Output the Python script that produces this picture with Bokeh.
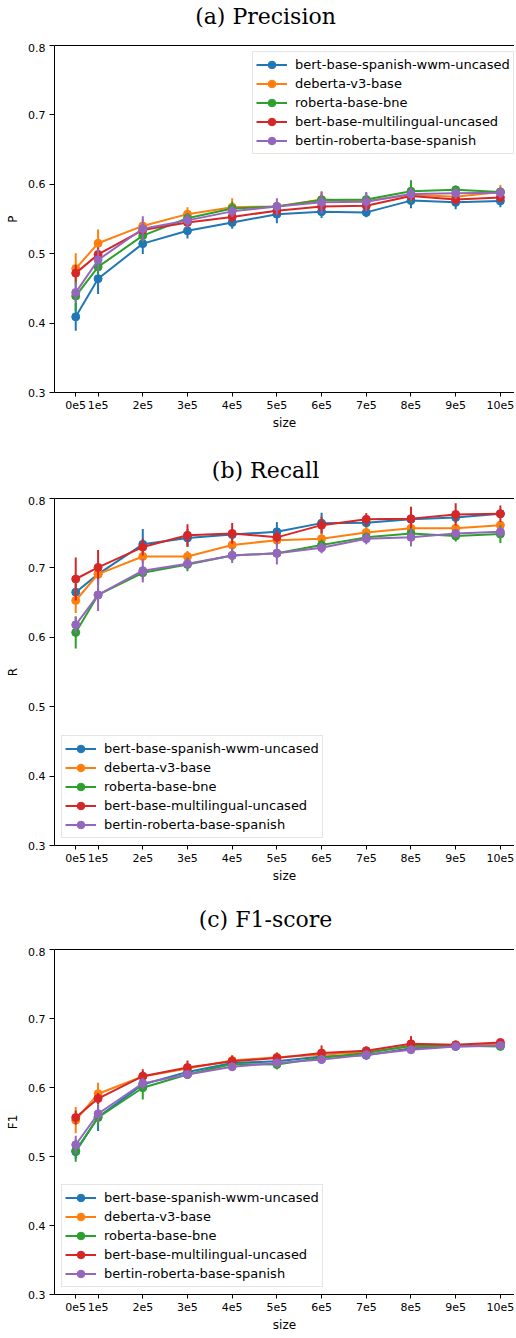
from bokeh.plotting import figure
from bokeh.models import (ColumnDataSource, Range1d, FixedTicker, LinearAxis,
                          Legend, LegendItem, Label)
from bokeh.layouts import column
from bokeh.embed import file_html
from bokeh.resources import INLINE

# ---------------- data ----------------
sizes = [50000, 100000, 200000, 300000, 400000, 500000,
         600000, 700000, 800000, 900000, 1000000]
size_labels = ["0e5", "1e5", "2e5", "3e5", "4e5", "5e5",
               "6e5", "7e5", "8e5", "9e5", "10e5"]
models = ["bert-base-spanish-wwm-uncased", "deberta-v3-base", "roberta-base-bne",
          "bert-base-multilingual-uncased", "bertin-roberta-base-spanish"]
colors = ["#1f77b4", "#ff7f0e", "#2ca02c", "#d62728", "#9467bd"]
y_ticks = [0.3, 0.4, 0.5, 0.6, 0.7, 0.8]
panel_titles = ["(a) Precision", "(b) Recall", "(c) F1-score"]
y_labels = ["P", "R", "F1"]

# (a) Precision
p_bert_es = [0.409, 0.464, 0.5145, 0.533, 0.545, 0.557, 0.5605, 0.5595, 0.5765, 0.574, 0.576]
p_deberta = [0.4785, 0.515, 0.540, 0.557, 0.567, 0.568, 0.578, 0.576, 0.585, 0.582, 0.589]
p_roberta = [0.439, 0.481, 0.526, 0.551, 0.565, 0.568, 0.5775, 0.578, 0.590, 0.592, 0.589]
p_mbert = [0.472, 0.499, 0.534, 0.545, 0.553, 0.562, 0.568, 0.569, 0.583, 0.578, 0.581]
p_bertin = [0.444, 0.491, 0.536, 0.548, 0.561, 0.568, 0.574, 0.575, 0.586, 0.587, 0.588]
p_err_bert_es = [0.020, 0.022, 0.015, 0.011, 0.009, 0.013, 0.009, 0.007, 0.011, 0.010, 0.009]
p_err_deberta = [0.022, 0.020, 0.010, 0.010, 0.013, 0.005, 0.011, 0.008, 0.008, 0.008, 0.010]
p_err_roberta = [0.022, 0.010, 0.010, 0.008, 0.010, 0.006, 0.008, 0.009, 0.016, 0.006, 0.005]
p_err_mbert = [0.012, 0.010, 0.008, 0.007, 0.008, 0.006, 0.007, 0.008, 0.006, 0.007, 0.006]
p_err_bertin = [0.014, 0.016, 0.018, 0.010, 0.008, 0.012, 0.016, 0.014, 0.009, 0.008, 0.008]

# (b) Recall
r_bert_es = [0.665, 0.691, 0.734, 0.743, 0.748, 0.752, 0.7645, 0.765, 0.770, 0.7727, 0.778]
r_deberta = [0.653, 0.691, 0.7165, 0.7165, 0.733, 0.740, 0.742, 0.751, 0.757, 0.757, 0.7616]
r_roberta = [0.607, 0.661, 0.693, 0.705, 0.718, 0.721, 0.733, 0.744, 0.7497, 0.746, 0.7487]
r_mbert = [0.684, 0.7007, 0.730, 0.747, 0.7497, 0.744, 0.7616, 0.770, 0.771, 0.777, 0.778]
r_bertin = [0.618, 0.661, 0.696, 0.706, 0.718, 0.721, 0.729, 0.742, 0.744, 0.7497, 0.752]
r_err_bert_es = [0.012, 0.010, 0.022, 0.013, 0.008, 0.014, 0.015, 0.008, 0.008, 0.008, 0.006]
r_err_deberta = [0.018, 0.010, 0.010, 0.008, 0.008, 0.008, 0.008, 0.008, 0.006, 0.006, 0.006]
r_err_roberta = [0.023, 0.010, 0.010, 0.010, 0.008, 0.006, 0.008, 0.007, 0.008, 0.008, 0.013]
r_err_mbert = [0.031, 0.025, 0.012, 0.016, 0.015, 0.010, 0.012, 0.009, 0.017, 0.016, 0.012]
r_err_bertin = [0.012, 0.023, 0.017, 0.008, 0.011, 0.016, 0.008, 0.008, 0.013, 0.006, 0.008]

# (c) F1-score
f_bert_es = [0.507, 0.557, 0.6044, 0.6226, 0.6356, 0.638, 0.645, 0.6466, 0.657, 0.6595, 0.661]
f_deberta = [0.5526, 0.591, 0.616, 0.6274, 0.639, 0.6437, 0.6476, 0.6514, 0.6595, 0.661, 0.663]
f_roberta = [0.5085, 0.5565, 0.5996, 0.6188, 0.634, 0.6333, 0.643, 0.650, 0.6605, 0.6605, 0.6595]
f_mbert = [0.5565, 0.584, 0.6164, 0.629, 0.638, 0.6428, 0.650, 0.6533, 0.6634, 0.662, 0.6653]
f_bertin = [0.517, 0.562, 0.606, 0.6188, 0.630, 0.6356, 0.6404, 0.6476, 0.6547, 0.6595, 0.661]
f_err_bert_es = [0.010, 0.020, 0.008, 0.006, 0.006, 0.006, 0.006, 0.006, 0.005, 0.004, 0.004]
f_err_deberta = [0.019, 0.016, 0.008, 0.006, 0.008, 0.006, 0.006, 0.005, 0.005, 0.004, 0.004]
f_err_roberta = [0.016, 0.012, 0.017, 0.006, 0.005, 0.007, 0.005, 0.005, 0.005, 0.004, 0.004]
f_err_mbert = [0.010, 0.008, 0.010, 0.010, 0.008, 0.008, 0.011, 0.006, 0.011, 0.005, 0.005]
f_err_bertin = [0.013, 0.012, 0.008, 0.006, 0.005, 0.006, 0.006, 0.005, 0.006, 0.004, 0.004]

# ---------------- styling helpers ----------------
SANS = "DejaVu Sans"
SERIF = "DejaVu Serif"
FIG_W = 514


def make_title(text, height, baseline):
    t = figure(width=FIG_W, height=height, output_backend="svg", toolbar_location=None,
               x_range=Range1d(0, FIG_W), y_range=Range1d(0, height),
               min_border=0, min_border_left=0, min_border_right=0,
               min_border_top=0, min_border_bottom=0)
    t.axis.visible = False
    t.grid.visible = False
    t.outline_line_color = None
    t.background_fill_color = "white"
    t.border_fill_color = "white"
    t.add_layout(Label(x=211, y=baseline, x_units="screen", y_units="screen",
                       text=text, text_align="center", text_baseline="alphabetic",
                       text_font=SERIF, text_font_size="22px", text_color="black"))
    return t


def make_panel(ylabel, series, errors, legend_pos, height, border_top, border_bottom):
    p = figure(width=FIG_W, height=height, output_backend="svg", toolbar_location=None,
               x_range=Range1d(2500, 1031600), y_range=Range1d(0.3, 0.8),
               min_border_left=54, min_border_right=0,
               min_border_top=border_top, min_border_bottom=border_bottom,
               x_axis_label="size", y_axis_label=ylabel)
    p.outline_line_color = None
    p.grid.visible = False
    p.background_fill_color = "white"
    p.border_fill_color = "white"

    xa = p.below[0]
    ya = p.left[0]

    # top spine
    top = LinearAxis(ticker=FixedTicker(ticks=[]), axis_line_color="black",
                     axis_line_width=1, major_tick_line_color=None,
                     minor_tick_line_color=None, major_label_text_font_size="0px")
    p.add_layout(top, "above")

    xa.ticker = FixedTicker(ticks=sizes)
    xa.major_label_overrides = {s: l for s, l in zip(sizes, size_labels)}
    ya.ticker = FixedTicker(ticks=y_ticks)
    ya.major_label_overrides = {t: f"{t:.1f}" for t in y_ticks}
    for ax in (xa, ya):
        ax.axis_line_color = "black"
        ax.axis_line_width = 1
        ax.major_tick_line_color = "black"
        ax.major_tick_out = 4
        ax.major_tick_in = 0
        ax.minor_tick_line_color = None
        ax.major_label_text_font = SANS
        ax.major_label_text_font_size = "11px"
        ax.major_label_text_color = "black"
        ax.axis_label_text_font = SANS
        ax.axis_label_text_font_size = "12px"
        ax.axis_label_text_font_style = "normal"
        ax.axis_label_text_color = "black"
    xa.major_label_standoff = 4
    xa.axis_label_standoff = 4
    ya.major_tick_out = 5
    ya.major_label_standoff = 4
    ya.axis_label_standoff = 5

    items = []
    for name, color, vals, errs in zip(models, colors, series, errors):
        src = ColumnDataSource(dict(
            x=sizes, y=vals,
            lo=[v - e for v, e in zip(vals, errs)],
            hi=[v + e for v, e in zip(vals, errs)]))
        ln = p.line("x", "y", source=src, line_color=color, line_width=2)
        p.segment(x0="x", y0="lo", x1="x", y1="hi", source=src,
                  line_color=color, line_width=2)
        sc = p.scatter("x", "y", source=src, size=8, fill_color=color,
                       line_color=color, line_width=1)
        items.append(LegendItem(label=name, renderers=[ln, sc]))

    leg = Legend(items=items, location=legend_pos,
                 label_text_font=SANS, label_text_font_size="13px",
                 label_text_color="black",
                 glyph_width=31, glyph_height=19, label_height=19,
                 label_standoff=8, spacing=0, padding=3, margin=7,
                 border_line_color="#cccccc", border_line_width=1,
                 background_fill_color="white", background_fill_alpha=0.8)
    p.add_layout(leg, "center")
    return p


t1 = make_title(panel_titles[0], 43, 27.5)
p1 = make_panel(y_labels[0],
                [p_bert_es, p_deberta, p_roberta, p_mbert, p_bertin],
                [p_err_bert_es, p_err_deberta, p_err_roberta, p_err_mbert, p_err_bertin],
                (198, 238), 398, 2, 49)
t2 = make_title(panel_titles[1], 55, 26.5)
p2 = make_panel(y_labels[1],
                [r_bert_es, r_deberta, r_roberta, r_mbert, r_bertin],
                [r_err_bert_es, r_err_deberta, r_err_roberta, r_err_mbert, r_err_bertin],
                "bottom_left", 399, 2, 50)
t3 = make_title(panel_titles[2], 52, 28.5)
p3 = make_panel(y_labels[2],
                [f_bert_es, f_deberta, f_roberta, f_mbert, f_bertin],
                [f_err_bert_es, f_err_deberta, f_err_roberta, f_err_mbert, f_err_bertin],
                "bottom_left", 387, 2, 38)

layout = column(t1, p1, t2, p2, t3, p3, spacing=0)
open("out.html", "w").write(file_html(layout, INLINE))
